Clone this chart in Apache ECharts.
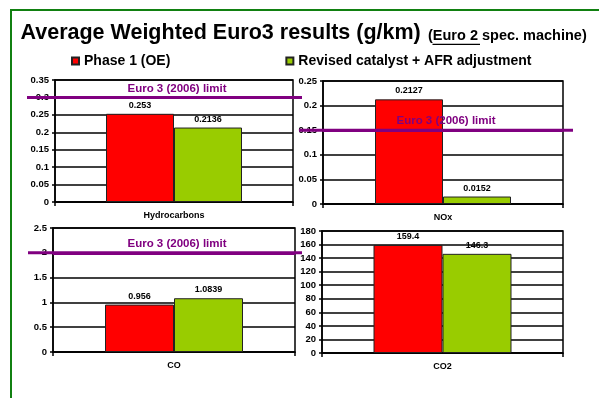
<!DOCTYPE html>
<html>
<head>
<meta charset="utf-8">
<script src="https://cdn.jsdelivr.net/npm/echarts@6/dist/echarts.min.js"></script>
<style>
html,body{margin:0;padding:0;background:#fff;}
#chart{width:599px;height:398px;}
</style>
</head>
<body>
<div id="chart"></div>
<script>
// ---- data ----
var categories = ['Hydrocarbons', 'NOx', 'CO', 'CO2'];
var seriesNames = ['Phase 1 (OE)', 'Revised catalyst + AFR adjustment'];
var phase1 = [0.253, 0.2127, 0.956, 159.4];
var revised = [0.2136, 0.0152, 1.0839, 146.3];
var limits = [0.3, 0.15, 2, null];
var limitLabel = 'Euro 3 (2006) limit';
var yMax = [0.35, 0.25, 2.5, 180];
var yInterval = [0.05, 0.05, 0.5, 20];
var titleText = 'Average Weighted Euro3 results (g/km)';
var subtitleParts = ['(', 'Euro 2', ' spec. machine)'];

// ---- layout / style ----
var FONT = '"Liberation Sans", Arial, sans-serif';
var RED = '#FF0000', GREEN = '#99CC00', PURPLE = '#800080';
var plotGrids = [
  {left: 55, top: 80, width: 238, height: 122},
  {left: 323, top: 81, width: 240, height: 123},
  {left: 53, top: 228, width: 242, height: 124},
  {left: 322, top: 231, width: 241, height: 122}
];
var limitGrids = [
  {left: 27, top: 80, width: 275, height: 122},
  {left: 299, top: 81, width: 274, height: 123},
  {left: 28, top: 228, width: 274, height: 124}
];
var barWidths = [68, 68, 69, 69];

var grids = [], xAxes = [], yAxes = [], series = [];
var labelStyle = {fontFamily: FONT, fontWeight: 'bold', fontSize: 9, color: '#000'};

plotGrids.forEach(function (g, i) {
  grids.push(Object.assign({show: true, borderColor: '#000', borderWidth: 1.5, backgroundColor: 'transparent'}, g));
  xAxes.push({
    type: 'category', gridIndex: i, data: [categories[i]],
    axisLine: {lineStyle: {color: '#000', width: 1.5}},
    axisTick: {show: true, length: 4, lineStyle: {color: '#000', width: 1.5}},
    axisLabel: Object.assign({margin: 9}, labelStyle)
  });
  yAxes.push({
    type: 'value', gridIndex: i, min: 0, max: yMax[i], interval: yInterval[i],
    axisLine: {show: true, lineStyle: {color: '#000', width: 1.5}},
    axisTick: {show: true, length: 3, lineStyle: {color: '#000', width: 1.5}},
    splitLine: {show: true, lineStyle: {color: '#000', width: 1.5}},
    axisLabel: Object.assign({margin: 6}, labelStyle, {fontSize: 9.5})
  });
  var s1 = {
    name: seriesNames[0], type: 'bar', xAxisIndex: i, yAxisIndex: i,
    data: [phase1[i]], barWidth: barWidths[i], barGap: '0%',
    itemStyle: {color: RED, borderColor: '#222', borderWidth: 1},
    label: Object.assign({show: true, position: 'top', distance: 4}, labelStyle),
    z: 3
  };
  if (limits[i] != null) {
    s1.markLine = {
      silent: true, symbol: ['none', 'none'], z: 12,
      lineStyle: {color: PURPLE, width: 3, type: 'solid'},
      label: {show: true, position: 'insideMiddleTop', distance: 3, formatter: limitLabel,
              fontFamily: FONT, fontWeight: 'bold', fontSize: 11.5, color: PURPLE, offset: [3, 0]},
      data: [{yAxis: limits[i]}]
    };
  }
  series.push(s1);
  series.push({
    name: seriesNames[1], type: 'bar', xAxisIndex: i, yAxisIndex: i,
    data: [revised[i]], barWidth: barWidths[i], barGap: '0%',
    itemStyle: {color: GREEN, borderColor: '#222', borderWidth: 1},
    label: Object.assign({show: true, position: 'top', distance: 4}, labelStyle),
    z: 3
  });
});

limitGrids.forEach(function (g, k) {
  var gi = grids.length;
  grids.push(Object.assign({show: false}, g));
  xAxes.push({type: 'category', gridIndex: gi, show: false, boundaryGap: false, data: ['from', 'to']});
  yAxes.push({type: 'value', gridIndex: gi, show: false, min: 0, max: yMax[k]});
  series.push({
    name: 'limit' + k, type: 'line', xAxisIndex: gi, yAxisIndex: gi,
    data: [limits[k], limits[k]], symbol: 'none', silent: true,
    lineStyle: {color: PURPLE, width: 3}, z: 10, animation: false
  });
});

var chart = echarts.init(document.getElementById('chart'), null, {renderer: 'canvas'});
chart.setOption({
  animation: false,
  backgroundColor: '#fff',
  legend: {
    left: 71, top: 54, padding: 0, itemGap: 115,
    itemWidth: 7, itemHeight: 7, icon: 'rect',
    data: seriesNames,
    textStyle: {fontFamily: FONT, fontWeight: 'bold', fontSize: 14, color: '#000'}
  },
  graphic: [
    {type: 'rect', silent: true, z: -1, shape: {x: 11, y: 10, width: 700, height: 500},
     style: {fill: 'none', stroke: '#118011', lineWidth: 2}},
    {type: 'text', silent: true, x: 20.5, y: 33.5,
     style: {text: titleText, font: 'bold 21.5px ' + FONT, fill: '#000', verticalAlign: 'middle', align: 'left'}},
    {type: 'text', silent: true, x: 428, y: 35.8,
     style: {text: subtitleParts.join(''), font: 'bold 14.5px ' + FONT, fill: '#000', verticalAlign: 'middle', align: 'left'}},
    {type: 'line', silent: true, shape: {x1: 432.5, y1: 44.3, x2: 480, y2: 44.3},
     style: {stroke: '#000', lineWidth: 1.3}}
  ],
  grid: grids, xAxis: xAxes, yAxis: yAxes, series: series
});
</script>
</body>
</html>
